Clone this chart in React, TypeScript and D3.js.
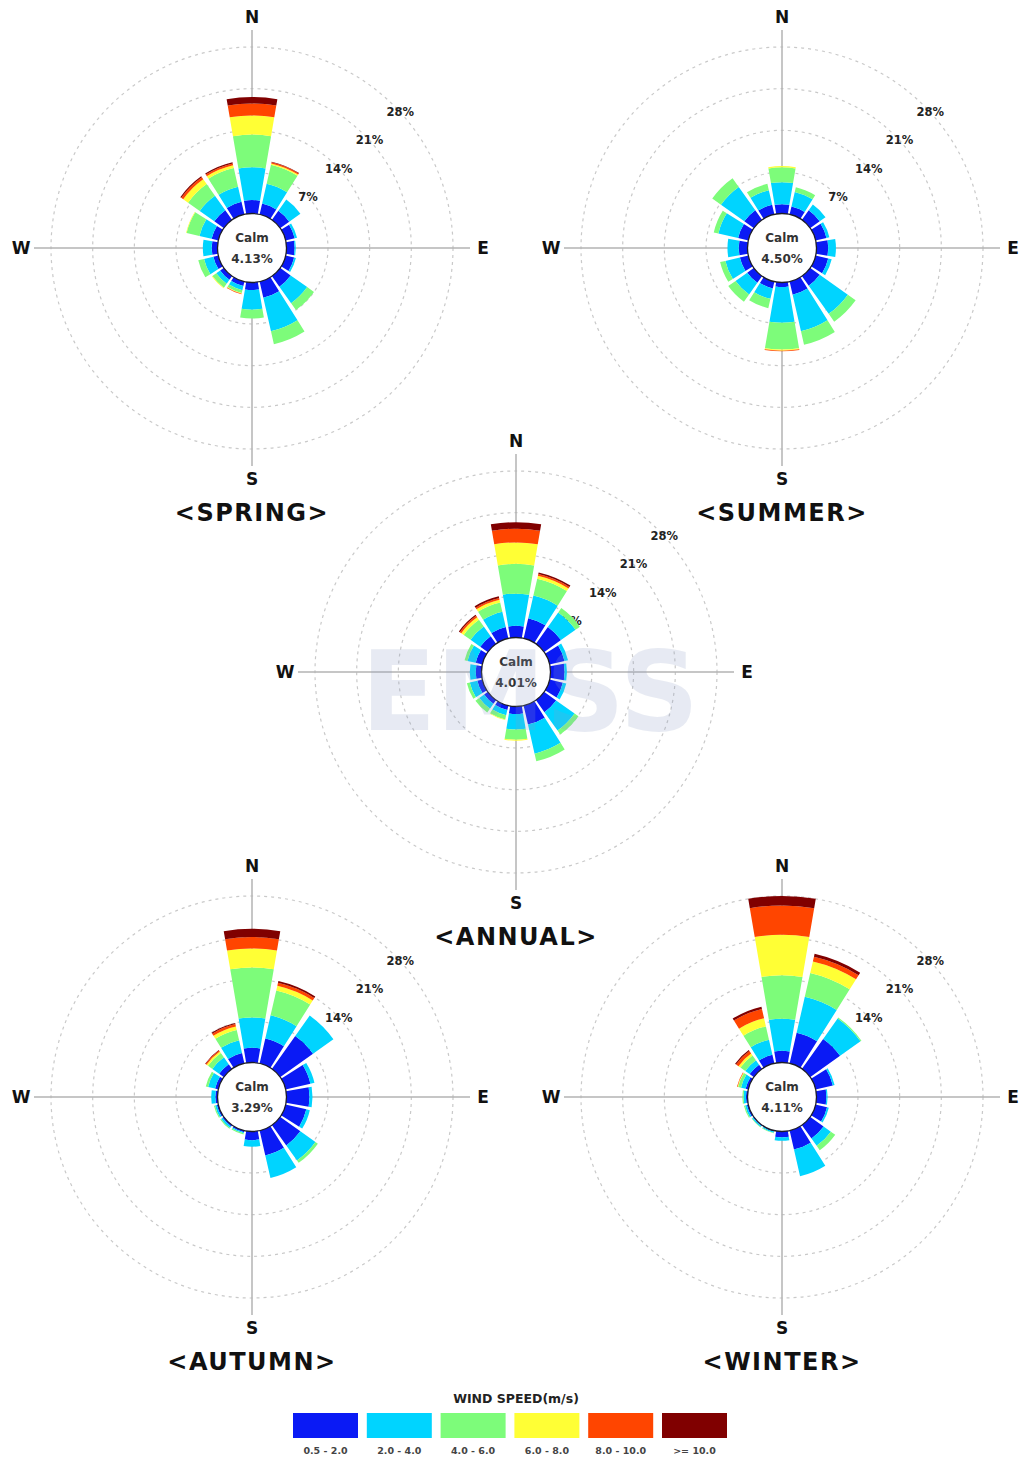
import React from 'react';
import * as d3 from 'd3';

// Compass sectors, clockwise from north
const directions = ['N', 'NNE', 'NE', 'ENE', 'E', 'ESE', 'SE', 'SSE', 'S', 'SSW', 'SW', 'WSW', 'W', 'WNW', 'NW', 'NNW'];

// Wind speed classes (m/s) and their colours
const speedBins = ['0.5 - 2.0', '2.0 - 4.0', '4.0 - 6.0', '6.0 - 8.0', '8.0 - 10.0', '>= 10.0'];
const binColors = ['#0a1af5', '#00d4ff', '#7dfc7a', '#ffff35', '#ff4500', '#800000'];

// Frequency rings (%)
const ringTicks = [7, 14, 21, 28];

// Frequency (%) per direction, one column per speed class
const springFreq = [
  [2.3, 5.5, 5.5, 3.2, 2.0, 1.1],
  [1.9, 3.4, 3.3, 0.2, 0.2, 0.1],
  [1.9, 2.3, 0, 0, 0, 0],
  [1.6, 0.4, 0, 0, 0, 0],
  [1.4, 0.2, 0, 0, 0, 0],
  [1.5, 0.3, 0, 0, 0, 0],
  [2.2, 3.4, 1.4, 0, 0, 0],
  [2.8, 5.8, 2.2, 0, 0, 0],
  [1.3, 3.3, 1.5, 0, 0, 0],
  [0.8, 0.7, 0.5, 0.1, 0.1, 0],
  [0.8, 0.8, 0.8, 0.1, 0, 0],
  [0.9, 1.6, 1.0, 0, 0, 0],
  [1.0, 1.5, 0, 0, 0, 0],
  [1.2, 2.1, 2.2, 0.1, 0, 0],
  [2.0, 3.0, 2.4, 1.0, 0.4, 0.2],
  [2.2, 2.6, 3.2, 0.5, 0.3, 0.2],
];

const summerFreq = [
  [1.6, 3.7, 2.5, 0.2, 0, 0],
  [1.4, 2.5, 0.8, 0, 0, 0],
  [2.0, 1.2, 0, 0, 0, 0],
  [1.9, 0.5, 0, 0, 0, 0],
  [2.0, 1.3, 0, 0, 0, 0],
  [2.2, 0.6, 0, 0, 0, 0],
  [2.0, 5.8, 1.6, 0, 0, 0],
  [2.3, 6.3, 2.3, 0, 0, 0],
  [0.8, 6.0, 4.5, 0.2, 0.1, 0],
  [1.2, 1.8, 1.6, 0, 0, 0],
  [1.4, 2.4, 1.5, 0, 0, 0],
  [1.5, 2.5, 0.9, 0, 0, 0],
  [1.5, 1.9, 0, 0, 0, 0],
  [1.8, 3.4, 0.8, 0, 0, 0],
  [2.0, 4.8, 1.8, 0, 0, 0],
  [1.7, 2.5, 1.1, 0, 0, 0],
];

const annualFreq = [
  [2.0, 5.4, 5.0, 3.6, 2.3, 1.1],
  [3.5, 3.9, 2.9, 0.5, 0.3, 0.3],
  [3.5, 3.0, 0.9, 0, 0, 0],
  [2.6, 0.6, 0, 0, 0, 0],
  [2.4, 0.4, 0, 0, 0, 0],
  [2.3, 0.6, 0, 0, 0, 0],
  [2.5, 3.8, 0.8, 0, 0, 0],
  [3.3, 5.0, 1.3, 0, 0, 0],
  [1.3, 2.6, 1.7, 0.2, 0, 0],
  [0.8, 0.9, 0.7, 0.1, 0, 0],
  [0.8, 1.0, 0.8, 0, 0, 0],
  [0.9, 1.3, 0.5, 0, 0, 0],
  [1.0, 1.0, 0, 0, 0, 0],
  [1.2, 1.4, 0.5, 0, 0, 0],
  [1.6, 2.0, 1.4, 0.5, 0.3, 0.2],
  [2.0, 2.6, 1.6, 0.5, 0.3, 0.3],
];

const autumnFreq = [
  [2.5, 5.1, 8.4, 3.2, 1.9, 1.4],
  [4.3, 4.0, 4.3, 0.8, 0.5, 0.3],
  [6.8, 4.2, 0, 0, 0, 0],
  [4.3, 0.7, 0, 0, 0, 0],
  [3.9, 0.5, 0, 0, 0, 0],
  [3.6, 0.6, 0, 0, 0, 0],
  [4.2, 3.1, 0.5, 0, 0, 0],
  [4.3, 3.9, 0, 0, 0, 0],
  [1.5, 1.1, 0, 0, 0, 0],
  [0.3, 0.2, 0.2, 0, 0, 0],
  [0.3, 0.3, 0.2, 0, 0, 0],
  [0.3, 0.3, 0.2, 0, 0, 0],
  [0.4, 0.7, 0, 0, 0, 0],
  [0.6, 1.2, 0.4, 0, 0, 0],
  [1.0, 1.4, 0.9, 0.3, 0.2, 0.1],
  [1.8, 2.2, 1.8, 0.6, 0.4, 0.2],
];

const winterFreq = [
  [2.0, 5.4, 7.3, 6.8, 4.9, 1.6],
  [5.3, 6.2, 4.1, 2.0, 0.8, 0.5],
  [6.2, 4.2, 0.2, 0, 0, 0],
  [3.0, 0.3, 0, 0, 0, 0],
  [1.7, 0.2, 0, 0, 0, 0],
  [2.0, 0.3, 0, 0, 0, 0],
  [2.8, 1.5, 0.9, 0, 0, 0],
  [3.3, 4.6, 0, 0, 0, 0],
  [1.0, 0.6, 0, 0, 0, 0],
  [0.2, 0.2, 0.1, 0, 0, 0],
  [0.2, 0.2, 0.1, 0, 0, 0],
  [0.3, 0.3, 0.2, 0, 0, 0],
  [0.3, 0.4, 0.2, 0, 0, 0],
  [0.5, 0.8, 0.5, 0.1, 0.1, 0],
  [0.9, 0.9, 1.0, 0.4, 0.5, 0.2],
  [1.5, 2.6, 2.3, 1.4, 1.6, 0.4],
];

const panelTitles = ['<SPRING>', '<SUMMER>', '<ANNUAL>', '<AUTUMN>', '<WINTER>'];
const calmValues = [4.13, 4.5, 4.01, 3.29, 4.11];
const panelFreqs = [springFreq, summerFreq, annualFreq, autumnFreq, winterFreq];

// Layout of the five roses on the page
const panelCenters = [
  { cx: 252, cy: 248 },
  { cx: 782, cy: 248 },
  { cx: 516, cy: 672 },
  { cx: 252, cy: 1097 },
  { cx: 782, cy: 1097 },
];

const FONT = "'DejaVu Sans', Verdana, sans-serif";
const W = 1021;
const H = 1461;

const radius = d3.scaleLinear().domain([0, 28]).range([34.3, 201]);
const sector = d3.scaleLinear().domain([0, directions.length]).range([0, 2 * Math.PI]);
const halfWidth = (Math.PI / directions.length) * 0.86;
const arcGen = d3.arc<any>();

const stackGen = d3
  .stack<number[]>()
  .keys(speedBins.map((_, i) => String(i)))
  .value((row, key) => row[+key]);

function Rose({ cx, cy, title, calm, freq, watermark }: any) {
  const layers = stackGen(freq);
  const compass = [
    { label: 'N', angle: 0 },
    { label: 'E', angle: 90 },
    { label: 'S', angle: 180 },
    { label: 'W', angle: 270 },
  ];
  const labelAngle = (47.5 * Math.PI) / 180;
  return (
    <g transform={`translate(${cx},${cy})`}>
      {ringTicks.map((t) => (
        <circle key={t} r={radius(t)} fill="none" stroke="#c9c9c9" strokeWidth={1.2} strokeDasharray="3,4" />
      ))}
      <line x1={-218} x2={218} y1={0} y2={0} stroke="#b3b3b3" strokeWidth={1.5} />
      <line y1={-218} y2={218} x1={0} x2={0} stroke="#b3b3b3" strokeWidth={1.5} />
      {ringTicks.map((t) => (
        <text
          key={'l' + t}
          x={radius(t) * Math.sin(labelAngle)}
          y={-radius(t) * Math.cos(labelAngle)}
          textAnchor="middle"
          dominantBaseline="central"
          fontFamily={FONT}
          fontWeight="bold"
          fontSize={11.5}
          fill="#222"
        >
          {t}%
        </text>
      ))}
      {compass.map((c) => {
        const a = (c.angle * Math.PI) / 180;
        return (
          <text
            key={c.label}
            x={231 * Math.sin(a)}
            y={-231 * Math.cos(a)}
            textAnchor="middle"
            dominantBaseline="central"
            fontFamily={FONT}
            fontWeight="bold"
            fontSize={17}
            fill="#111"
          >
            {c.label}
          </text>
        );
      })}
      {layers.map((layer, j) => (
        <g key={'layer' + j} fill={binColors[j]}>
          {layer.map((d, i) =>
            d[1] - d[0] > 0 ? (
              <path
                key={i}
                d={
                  arcGen({
                    innerRadius: radius(d[0]),
                    outerRadius: radius(d[1]),
                    startAngle: sector(i) - halfWidth,
                    endAngle: sector(i) + halfWidth,
                  }) as string
                }
              />
            ) : null
          )}
        </g>
      ))}
      <circle r={34.5} fill="#fff" stroke="#1d1d28" strokeWidth={1.3} />
      <text y={-10} textAnchor="middle" dominantBaseline="central" fontFamily={FONT} fontWeight="bold" fontSize={12} fill="#333">
        Calm
      </text>
      <text y={11} textAnchor="middle" dominantBaseline="central" fontFamily={FONT} fontWeight="bold" fontSize={12} fill="#333">
        {calm.toFixed(2)}%
      </text>
      {watermark ? (
        <text
          x={14}
          y={58}
          textAnchor="middle"
          fontFamily={FONT}
          fontWeight="bold"
          fontSize={110}
          fill="#8c9cc4"
          opacity={0.2}
        >
          EMSS
        </text>
      ) : null}
      <text
        y={265}
        textAnchor="middle"
        dominantBaseline="central"
        fontFamily={FONT}
        fontWeight="bold"
        fontSize={24}
        letterSpacing={1.5}
        fill="#111"
      >
        {title}
      </text>
    </g>
  );
}

function Legend() {
  const x0 = 293;
  const pitch = 73.8;
  return (
    <g>
      <text x={516} y={1398} textAnchor="middle" dominantBaseline="central" fontFamily={FONT} fontWeight="bold" fontSize={12.5} fill="#222">
        WIND SPEED(m/s)
      </text>
      {speedBins.map((b, i) => (
        <g key={b}>
          <rect x={x0 + i * pitch} y={1413} width={65} height={25} fill={binColors[i]} />
          <text
            x={x0 + i * pitch + 32.5}
            y={1450}
            textAnchor="middle"
            dominantBaseline="central"
            fontFamily={FONT}
            fontWeight="bold"
            fontSize={9.5}
            fill="#444"
          >
            {b}
          </text>
        </g>
      ))}
    </g>
  );
}

export default function App() {
  return (
    <svg
      width={W}
      height={H}
      viewBox={`0 0 ${W} ${H}`}
      style={{ position: 'absolute', left: 0, top: 0, background: '#fff' }}
    >
      <rect width={W} height={H} fill="#fff" />
      {panelTitles.map((t, k) => (
        <Rose
          key={t}
          cx={panelCenters[k].cx}
          cy={panelCenters[k].cy}
          title={t}
          calm={calmValues[k]}
          freq={panelFreqs[k]}
          watermark={t === '<ANNUAL>'}
        />
      ))}
      <Legend />
    </svg>
  );
}
